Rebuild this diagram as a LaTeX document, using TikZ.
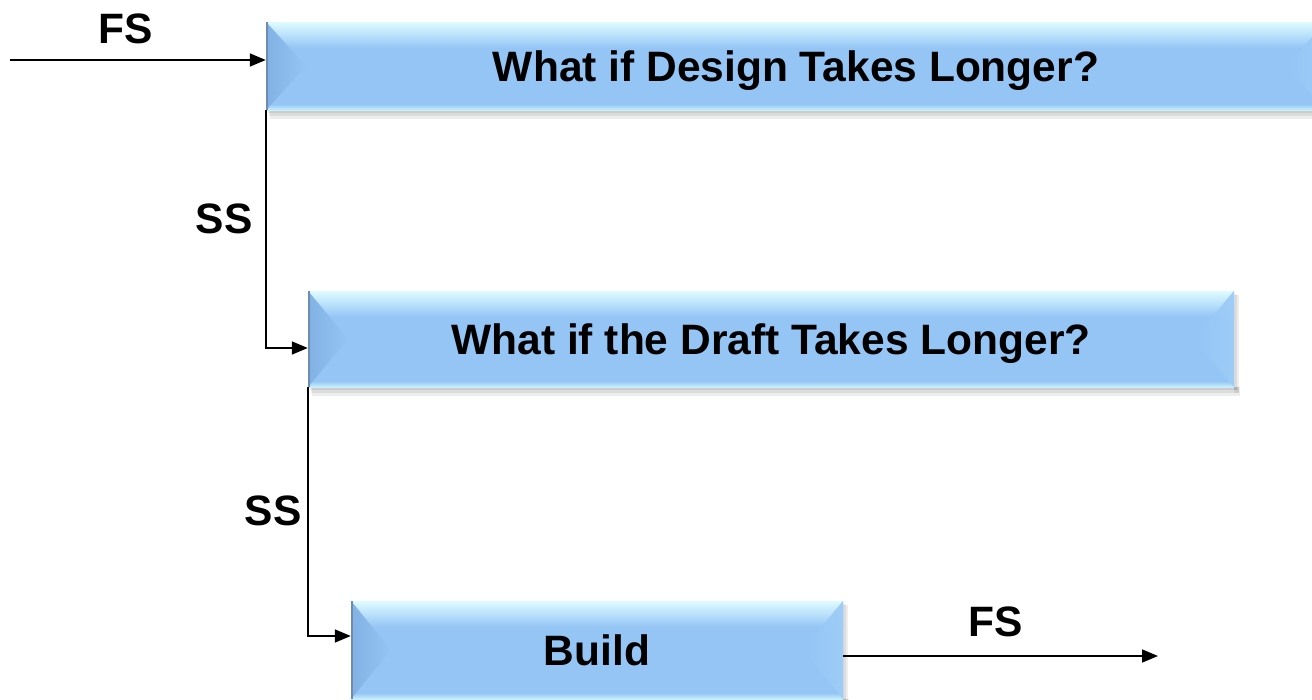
\documentclass[tikz,border=0pt]{standalone}
\usepackage{fontspec}
\setmainfont{Liberation Sans}
\usetikzlibrary{arrows.meta,calc}
\definecolor{basec}{RGB}{148,197,245}
\definecolor{topc}{RGB}{222,252,255}
\definecolor{botc}{RGB}{200,240,250}
\definecolor{leftc}{RGB}{128,176,226}
\definecolor{rightc}{RGB}{160,206,248}
\definecolor{edgec}{RGB}{110,140,175}
\newcommand\boxfont{\fontsize{42.5}{50}\selectfont\bfseries}
\tikzset{
  bevel/.style={rectangle, inner sep=0pt, fill=basec, font=\boxfont,
    text height=30pt, text depth=0pt,
    path picture={
      \path (path picture bounding box.north west) coordinate (pNW)
            (path picture bounding box.north east) coordinate (pNE)
            (path picture bounding box.south west) coordinate (pSW)
            (path picture bounding box.south east) coordinate (pSE)
            (path picture bounding box.west) coordinate (pW)
            (path picture bounding box.east) coordinate (pE);
      \fill[top color=topc, bottom color=basec] (pNW) rectangle ($(pNE)+(0,26)$);
      \fill[top color=basec, bottom color=botc] ($(pSW)+(0,-6)$) rectangle (pSE);
      \fill[left color=leftc, right color=basec, opacity=0.9] (pNW) -- ($(pW)+(40,0)$) -- (pSW) -- cycle;
      \fill[right color=rightc, left color=basec, opacity=0.8] (pNE) -- ($(pE)+(-40,0)$) -- (pSE) -- cycle;
      \fill[edgec] (pNW) rectangle ($(pSW)+(2,0)$);
    }},
  lbl/.style={font=\boxfont, inner sep=0pt, text height=30pt, text depth=0pt},
  conn/.style={line width=1.6pt, -{Triangle[length=16pt,width=13pt]}},
  shad/.style={fill=black, opacity=0.07}
}
\newcommand\bshadow[4]{%
  \fill[shad] (#1+2,#4) rectangle (#3+4,#4+3);
  \fill[shad] (#1+3,#4) rectangle (#3+5,#4+6);
  \fill[shad] (#1+4,#4) rectangle (#3+6,#4+9);
  \fill[shad] (#3,#2+3) rectangle (#3+3,#4+3);
  \fill[shad] (#3,#2+4) rectangle (#3+5,#4+6);
}
\begin{document}
\begin{tikzpicture}[x=1pt,y=-1pt]
\useasboundingbox (0,0) rectangle (1312,699);
\clip (0,0) rectangle (1312,699);
\fill[white] (0,0) rectangle (1312,699);

\bshadow{266}{22}{1326}{110}
\bshadow{308}{291}{1234}{387}
\bshadow{351}{601}{843}{699}

\node[bevel, minimum width=1060pt, minimum height=88pt] (b1) at (796,66) {What if Design Takes Longer?};
\node[bevel, minimum width=926pt, minimum height=96pt] (b2) at (771,339) {What if the Draft Takes Longer?};
\node[bevel, minimum width=492pt, minimum height=98pt] (b3) at (597,650) {Build};

\coordinate (in1) at (10,60);
\coordinate (out1) at (1158,656);

\draw[conn] (in1) -- (b1.west |- in1);
\draw[conn] (b1.south west) |- ([yshift=-9pt]b2.west);
\draw[conn] (b2.south west) |- ([yshift=14pt]b3.west);
\draw[conn] (b3.east |- out1) -- (out1);

\node[lbl] (l1) at (126,28) {FS};
\node[lbl] (l2) at (224,218) {SS};
\node[lbl] (l3) at (273,510) {SS};
\node[lbl] (l4) at (996,621) {FS};
\end{tikzpicture}
\end{document}
